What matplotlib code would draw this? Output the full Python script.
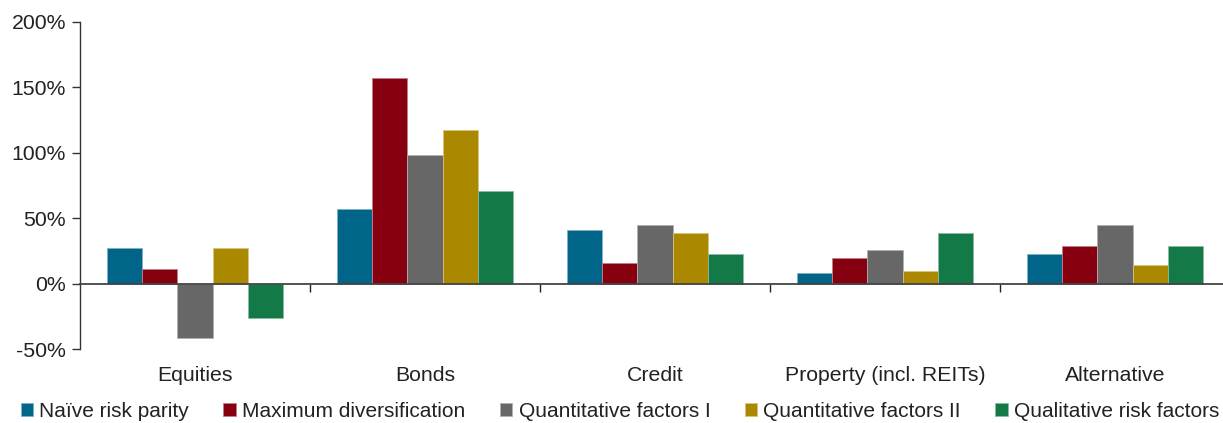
import matplotlib
matplotlib.use("Agg")
import matplotlib.pyplot as plt
import matplotlib.transforms as mtransforms
import numpy as np

plt.rcParams['font.family'] = ['Liberation Sans', 'DejaVu Sans']

categories = ["Equities", "Bonds", "Credit", "Property (incl. REITs)", "Alternative"]
series_names = ["Naïve risk parity", "Maximum diversification", "Quantitative factors I",
                "Quantitative factors II", "Qualitative risk factors"]
naive = [27, 57, 41, 8, 22.5]
maxdiv = [11, 157, 16, 19.5, 28.5]
quant1 = [-41.5, 98, 44.5, 25.5, 44.5]
quant2 = [27.5, 117.5, 38.5, 9.5, 14]
qual = [-26, 71, 23, 39, 28.5]
yticks = [-50, 0, 50, 100, 150, 200]
ytick_labels = ["-50%", "0%", "50%", "100%", "150%", "200%"]

colors = ["#006588", "#87000F", "#676767", "#AA8800", "#137A47"]
edges = ["#7FB0C4", "#C07F87", "#B0B0B0", "#D8C37F", "#88BCA2"]

fig = plt.figure(figsize=(12.23, 4.23), dpi=100)
ax = fig.add_axes([80/1223, (423-349)/423, 1 - 80/1223, (349-22)/423])

x = np.arange(len(categories))
w = 0.1535
data = [naive, maxdiv, quant1, quant2, qual]
for i, (vals, name) in enumerate(zip(data, series_names)):
    ax.bar(x + (i - 2) * w, vals, width=w, color=colors[i], edgecolor=edges[i],
           linewidth=0.6, label=name, zorder=2)

ax.set_ylim(-50, 200)
ax.set_xlim(-0.5, -0.5 + 1143/230)
ax.set_yticks(yticks)
ax.set_yticklabels(ytick_labels, fontsize=15.3, color="#222222")
ax.tick_params(axis='y', direction='out', length=6, width=1, color="#333333", pad=4)

for s in ['top', 'right']:
    ax.spines[s].set_visible(False)
ax.spines['left'].set_color("#333333")
ax.spines['left'].set_linewidth(1)
ax.spines['bottom'].set_position(('data', 0))
ax.spines['bottom'].set_color("#444444")
ax.spines['bottom'].set_linewidth(1.3)
ax.spines['bottom'].set_zorder(3)
ax.set_xticks(x[:-1] + 0.5)
ax.set_xticklabels([])
ax.tick_params(axis='x', direction='out', length=6, width=1, color="#222222")

trans = mtransforms.blended_transform_factory(ax.transData, ax.transAxes)
for xi, c in zip(x, categories):
    ax.text(xi, -26/327, c, transform=trans, ha='center', va='center',
            fontsize=15.3, color="#222222")

fig.legend(loc='center', bbox_to_anchor=(620/1223, 12/423), ncol=5, frameon=False,
           fontsize=15, handlelength=0.6, handleheight=0.6, handletextpad=0.3,
           columnspacing=1.65, borderaxespad=0, borderpad=0, labelcolor="#222222")

fig.savefig("out.png", dpi=100)
